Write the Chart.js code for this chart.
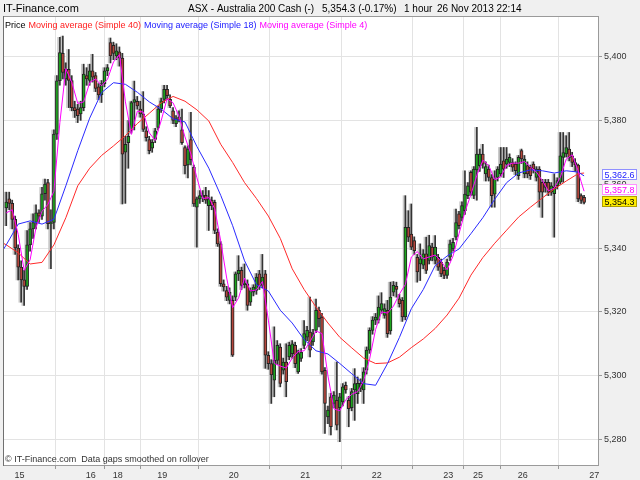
<!DOCTYPE html>
<html><head><meta charset="utf-8">
<script src="https://cdn.jsdelivr.net/npm/chart.js@4/dist/chart.umd.min.js"></script>
<style>html,body{margin:0;padding:0;background:#f0f0f0;}canvas{display:block;}</style>
</head><body>
<canvas id="c" width="640" height="480"></canvas>
<script>
// ---- tick labels ----
const dayLabels = ['15','16','18','19','20','21','22','23','25','26','27'];
const dayStarts = [4.4,28.4,37.4,52.4,76.4,100.4,124.4,148.4,158.4,173.4,197.4];
const yTicks = [5280,5300,5320,5340,5360,5380,5400];

// ---- hourly candles (index 0..194) ----
const open = [5352.6,5355.4,5354,5349,5340,5334,5330,5328,5341,5346,5348,5351,5350,5357,5360.5,5347.6,5348,5375.7,5392.4,5401,
5393,5396,5392.5,5384,5383.5,5382,5384,5394,5392.5,5395.5,5394,5390.5,5388,5391.5,5395.5,5404.4,5403.5,5400.2,5401.5,5399.5,
5370,5373,5377,5385.6,5386,5383.5,5382,5376.7,5374,5371.3,5374,5377.8,5383.5,5386.6,5389.7,5386.6,5383,5379,5381,5377,
5371.5,5366,5374,5365.3,5352.8,5355.4,5356,5356.5,5353.3,5355,5354.3,5345,5341.3,5328.8,5326.7,5323.6,5323.6,5324.6,5331.9,5333,
5328.5,5328.8,5323,5326.2,5326.7,5331.9,5328.3,5331.9,5306.4,5303.8,5298.6,5304.8,5309,5301.7,5304.3,5305.9,5306.9,5309.5,5301.2,5305.4,
5309.5,5312.1,5313.7,5310.6,5314.2,5320.5,5318.4,5301.7,5287.1,5293.4,5291.3,5292.3,5290,5291.8,5297,5292.3,5290,5295.5,5294.4,5296,
5295.5,5301.7,5308,5314.2,5317.4,5317.4,5320.5,5318.9,5320.5,5314,5326.2,5328,5324.1,5323.6,5318.4,5346.5,5344.4,5342.3,5337.1,5335,
5334.6,5338.2,5336.1,5340.3,5336.1,5337.1,5335.6,5333,5331.4,5337.1,5339.7,5343.4,5350.7,5349.6,5351.7,5356.4,5363.7,5356.5,5364.5,5365.8,
5369.4,5363.2,5364.7,5362.1,5356.9,5362.1,5363.2,5367.3,5366.3,5366.8,5366.8,5366.3,5362.7,5370.5,5363.2,5365.8,5365.3,5366.3,5362.1,5364.7,
5360.6,5360.6,5360.6,5357.5,5357,5359.5,5360.6,5368.4,5369.5,5371,5368.9,5366.8,5366,5356.4,5355.9];
const high = [5357.5,5357.5,5355,5350,5341,5336,5333,5345.5,5348,5350.7,5353.5,5352,5359,5361.6,5361.5,5352,5377,5394,5406,5406.4,
5398,5402.2,5394,5386,5385,5386,5397.6,5396.5,5397.6,5400.7,5395,5391.5,5392.5,5396.5,5397.5,5405.8,5404.5,5404,5403,5401,
5375,5380,5386,5392.3,5387.5,5386,5389,5378,5375,5374,5377.5,5384.5,5387,5391,5391,5388,5384,5381.5,5383,5383.5,
5372,5372,5382.5,5366,5356,5358,5358,5359,5358,5356,5355,5346,5342,5330,5328,5327.5,5325,5332.5,5337.6,5334,
5335,5330,5327.5,5328.5,5332,5333,5338,5333,5307.5,5305,5315.3,5311,5310,5305.5,5310,5310.5,5311,5310.5,5308,5308.5,
5317.3,5315.5,5324.6,5314.5,5324,5321.5,5319.5,5302.5,5290.5,5294.5,5295,5304.3,5294.5,5297.5,5298,5293.5,5296,5302.2,5299.6,5299,
5302.5,5309,5315,5318.5,5319.5,5325,5326,5322.5,5323.6,5329.3,5329.5,5329.3,5325.5,5324.5,5356.4,5351.7,5353.8,5343.5,5338,5341.3,
5339.5,5343.4,5344,5341.5,5343.9,5338,5336.5,5334,5336.5,5342.5,5343,5352.2,5351.5,5354.5,5364.2,5360.5,5364.2,5365.5,5377.8,5371,
5372.5,5367,5366,5363,5364.2,5365.5,5371.5,5371.5,5371.5,5369.5,5368,5367,5369,5371,5369,5367,5366,5367,5365.5,5365.5,
5361.5,5361.5,5361.5,5360.5,5363.2,5362,5376.2,5376.2,5375.2,5376.2,5370,5368,5366.3,5357,5356.5];
const low = [5347,5352,5346,5338,5330,5323,5322,5327,5339,5343,5346,5348,5349,5355,5346,5333.5,5346,5374,5391,5393,
5391,5384,5383,5380.9,5379.3,5380,5383,5391,5391,5392,5389,5386.5,5385.6,5390.5,5394,5398,5399,5399,5397,5353.8,
5354,5365,5376,5377,5383.5,5381,5376.5,5373.5,5369.5,5370,5373,5377,5382.5,5385.5,5386.5,5384,5379,5378,5379.5,5372.5,
5363.2,5362,5366,5353,5340.3,5354,5354.5,5354,5345.5,5352,5344.5,5340.5,5328,5326.5,5323.5,5322.5,5306,5323.5,5329.8,5327,
5327.5,5320.5,5322,5325,5325.5,5327,5327.5,5302.3,5302,5291.3,5293.4,5303.5,5296.5,5300.5,5293.4,5305,5305.5,5302.5,5300.7,5304.5,
5308.5,5311,5305.9,5309.5,5313.5,5315.3,5300.5,5281.9,5285,5281.4,5290,5283,5279.3,5290.5,5294.5,5284,5289,5286,5291.3,5295,
5291.3,5300.5,5307,5313,5316,5316.5,5319.5,5318,5312,5313,5325,5324.6,5321.5,5317,5317.5,5342,5339.5,5338,5329.3,5329.8,
5333.5,5332,5335,5336,5335,5333,5331,5330.4,5330.5,5336,5339,5342.5,5346,5348.5,5350.5,5355.5,5356.5,5355.5,5355,5364,
5365,5361,5361,5352.8,5352.8,5361,5362.5,5362.1,5365,5365.5,5364,5363,5361.5,5366.5,5362,5362,5361.5,5363.5,5361,5352.8,
5349.6,5357.5,5356.4,5356.5,5343.4,5358.5,5360,5360.6,5368.5,5367.3,5365.5,5364,5354.5,5354,5353.8];
const close = [5354.4,5354,5349,5340,5334,5330,5328,5341,5346,5348,5351,5350,5357,5360,5347.6,5348,5375.7,5392.4,5401.2,5395,
5396,5392.5,5384,5383,5381.5,5384,5394.5,5393,5395.5,5393.5,5390,5388,5391.5,5395.5,5396.5,5400.2,5401,5401.8,5399.5,5369.4,
5372.5,5375,5385.6,5386.5,5384.5,5382,5377.2,5374.6,5370.5,5373.1,5376.7,5383.5,5386.1,5389.7,5387.7,5384.5,5380,5380.5,5380,5373,
5365.8,5371,5367.7,5353.8,5355.4,5356.4,5356.5,5355,5355.4,5353.3,5345.5,5341.3,5328.8,5327.8,5324.6,5326.2,5306.4,5331.9,5333,5328.3,
5329,5322,5326.7,5327.8,5330.9,5328.3,5330.9,5306.4,5303.8,5300.2,5304.8,5309.5,5297.6,5304.3,5298.1,5309.5,5310,5303.8,5306.9,5307.4,
5313.2,5314.2,5308,5313.2,5320.5,5317.9,5301.2,5291.3,5289.2,5284,5293.9,5284.5,5293.4,5296.5,5295.5,5289.7,5295,5297.5,5297.6,5297.6,
5301.2,5308,5314.2,5317.4,5318.4,5321.5,5322.6,5321,5313.2,5324.6,5328.3,5327,5322.6,5318.4,5346.5,5343.4,5340.3,5339.2,5332.5,5336.6,
5338.2,5333,5340.8,5337.1,5340.3,5334,5331.9,5331.4,5335.6,5341.3,5341.8,5348,5347,5353.3,5356.9,5359.5,5357.5,5364.7,5369.4,5369.4,
5366.3,5365.5,5362.1,5356.4,5361.6,5364.7,5366.3,5364.7,5367.9,5368.4,5365.3,5364.2,5368.4,5367.9,5367.9,5363.2,5362.7,5364.7,5364.7,5357.5,
5357.5,5359,5357.5,5359.5,5359,5361.1,5368.9,5369.9,5371.5,5368.4,5366.8,5366,5355.4,5354.9,5354.3];

const maIdx = [-1,0,4,8,12,16,20,24,28,32,36,40,44,48,52,56,60,64,68,72,76,80,84,88,92,96,100,104,108,112,116,120,124,128,132,136,140,144,148,152,156,160,164,168,172,176,180,184,188,192,194];
const sma40 = [5341.5,5341,5338.5,5335,5335.5,5341,5349.5,5359.5,5365,5369,5372,5375.2,5379,5382.2,5385.5,5387.5,5386,5383.3,5379.8,5372.5,5366.8,5360.5,5355.5,5350,5343,5333.5,5327,5321.5,5316.5,5312,5308.7,5305.5,5303.8,5304,5305.8,5308.8,5311.5,5314.8,5319,5324.3,5331.5,5337,5341.5,5345.6,5349.7,5352.8,5355.7,5358.5,5361,5363.3,5363.5];
const sma18 = [5339.5,5341,5347.5,5348.5,5347.5,5349,5359.5,5370.5,5380.7,5388.7,5391.8,5391.3,5388.8,5385.8,5383.5,5380.5,5379.5,5371.8,5365,5356.5,5347,5336,5328.5,5326.5,5320.5,5316.5,5311.3,5307.8,5306.8,5303.8,5300.6,5297.5,5297,5303.8,5312,5321,5327,5334.5,5337.5,5339.7,5344.5,5349.5,5355.3,5360.5,5363.5,5364.5,5364.2,5363.5,5364.2,5363.8,5362.6];
const sma4Idx = [0,2,4,6,8,10,12,14,16,18,20,22,24,26,28,30,32,34,36,38,40,42,44,46,48,50,52,54,56,58,60,62,64,66,68,70,72,74,76,78,80,82,84,86,88,90,92,94,96,98,100,102,104,106,108,110,112,114,116,118,120,122,124,126,128,130,132,134,136,138,140,142,144,146,148,150,152,154,156,158,160,162,164,166,168,170,172,174,176,178,180,182,184,186,188,190,192,193,194];
const sma4 = [5351,5352,5344.3,5333,5336.3,5346.5,5351.5,5353.7,5357.8,5379.3,5396.2,5391.9,5385.3,5385.8,5391.8,5393,5390.8,5392.9,5398.3,5400.6,5385.8,5375.6,5382.9,5382.6,5376.1,5373.7,5379.9,5386.8,5385.5,5381.3,5374.8,5369.4,5362,5355.5,5355.8,5352.3,5342.2,5330.6,5321.3,5324.4,5330.6,5326.5,5326.9,5329.5,5317.4,5303.8,5303,5302.4,5305.5,5307.6,5307.8,5310.7,5314,5313.2,5299.9,5289.6,5289,5292.5,5294.2,5295,5298.5,5305.3,5314.5,5320,5319.6,5321.8,5325.6,5328.6,5337.2,5338.9,5336.6,5337.2,5337.8,5335.8,5333.2,5337.5,5344.5,5351.3,5356.8,5362.8,5367.5,5365.8,5361.4,5362.3,5365.9,5366.6,5366.6,5367.1,5365.4,5363.8,5361.1,5357.9,5358.8,5362.1,5367.9,5369.2,5364.2,5360.8,5357.8];

const lastPrice = 5354.3, lastSma18 = 5362.6, lastSma4 = 5357.8;

// ---- build datasets ----
const bodies = close.map((c,i)=>({x:i, y:[open[i], c]}));
const wicks = close.map((c,i)=>({x:i, y:[low[i], high[i]]}));
const shadows = close.map((c,i)=>({x:i-0.45, y:[low[i], high[i]]}));
const bodyColors = close.map((c,i)=> c>=open[i] ? '#1ea51e' : '#b4463c');
const line = (idx, vals) => idx.map((k,i)=>({x:k, y:vals[i]}));

const FONT = 'Liberation Sans, Arial, sans-serif';
const fmt = v => { const s = v.toFixed(0); return s.slice(0,1)+','+s.slice(1); };
const fmt1 = v => { const s = v.toFixed(1); return s.slice(0,1)+','+s.slice(1); };

const deco = {
  id:'deco',
  beforeDraw(ch){
    const c = ch.ctx, a = ch.chartArea;
    c.save();
    c.fillStyle = '#f0f0f0'; c.fillRect(0,0,ch.width,ch.height);
    c.fillStyle = '#ffffff'; c.fillRect(a.left,a.top,a.right-a.left,a.bottom-a.top);
    c.restore();
  },
  afterDraw(ch){
    const c = ch.ctx, a = ch.chartArea, y = ch.scales.y;
    c.save();
    // plot border
    c.strokeStyle = '#9a9a9a'; c.lineWidth = 1;
    c.strokeRect(a.left+0.5, a.top+0.5, a.right-a.left-1, a.bottom-a.top-1);
    c.strokeStyle = '#707070';
    c.beginPath(); c.moveTo(a.left+0.5,a.top); c.lineTo(a.left+0.5,a.bottom); c.stroke();
    // header
    c.textBaseline = 'alphabetic';
    c.fillStyle = '#000';
    c.font = '11px '+FONT;
    c.fillText('IT-Finance.com', 3, 12);
    c.font = '10px '+FONT;
    c.fillText('ASX - Australia 200 Cash (-)', 188, 12);
    c.fillText('5,354.3 (-0.17%)', 322, 12);
    c.fillText('1 hour', 404, 12);
    c.fillText('26 Nov 2013 22:14', 437, 12);
    // legend
    c.font = '9px '+FONT;
    let x = a.left + 2; const ly = a.top + 12;
    const items = [['Price','#000000'],['Moving average (Simple 40)','#ff2020'],['Moving average (Simple 18)','#2020ff'],['Moving average (Simple 4)','#ff00ff']];
    items.forEach(([t,col])=>{ c.fillStyle = col; c.fillText(t, x, ly); x += c.measureText(t).width + 3; });
    // footer
    c.fillStyle = '#333';
    c.fillText('\u00A9 IT-Finance.com  Data gaps smoothed on rollover', a.left + 2, a.bottom - 4);
    // price tags
    const tag = (v, txt, fg, bg, bd, dy) => {
      const py = Math.round(y.getPixelForValue(v)) + dy;
      const bx = a.right + 3, bw = 35, bh = 11;
      c.fillStyle = bg; c.fillRect(bx, py-6, bw, bh);
      c.strokeStyle = bd; c.lineWidth = 1; c.strokeRect(bx+0.5, py-5.5, bw-1, bh-1);
      c.fillStyle = fg; c.font = '9px '+FONT; c.textAlign = 'center';
      c.fillText(txt, bx + bw/2, py+3);
      c.textAlign = 'left';
    };
    tag(lastSma18, fmt1(lastSma18), '#2020ff', '#ffffff', '#9090ff', -1);
    tag(lastSma4, fmt1(lastSma4), '#ff00ff', '#ffffff', '#ff90ff', -1);
    tag(lastPrice, fmt1(lastPrice), '#000000', '#ffee00', '#b0a000', 0);
    c.restore();
  }
};

new Chart(document.getElementById('c'), {
  type:'bar',
  data:{ datasets:[
    {type:'line', data:line(sma4Idx, sma4), borderColor:'#ff00ff', borderWidth:1, pointRadius:0, order:0},
    {type:'line', data:line(maIdx, sma18), borderColor:'#2a2aff', borderWidth:1, pointRadius:0, order:1},
    {type:'line', data:line(maIdx, sma40), borderColor:'#ff2a2a', borderWidth:1, pointRadius:0, order:2},
    {data:bodies, backgroundColor:bodyColors, borderColor:'#222', borderWidth:1, borderSkipped:false, barThickness:3, grouped:false, order:3},
    {data:wicks, backgroundColor:'#333', barThickness:1, grouped:false, order:4},
    {data:shadows, backgroundColor:'#c8c8c8', barThickness:2, grouped:false, order:5}
  ]},
  options:{
    responsive:false, animation:false, devicePixelRatio:1,
    layout:{padding:{left:3, top:16, right:0, bottom:0}},
    plugins:{legend:{display:false}, tooltip:{enabled:false}},
    scales:{
      x:{type:'linear', min:-1.1, max:199, offset:false,
        afterBuildTicks:s=>{ s.ticks = dayStarts.map(v=>({value:v})); },
        afterFit:s=>{ s.height = 14; },
        ticks:{autoSkip:false, maxRotation:0, padding:1, color:'#333', font:{family:FONT, size:9},
          callback:(v,i)=>dayLabels[i]},
        grid:{color:'#e3e3e3', lineWidth:1, tickLength:3, tickColor:'#999'},
        border:{display:false}
      },
      y:{position:'right', min:5271.7, max:5412.7,
        afterBuildTicks:s=>{ s.ticks = yTicks.map(v=>({value:v})); },
        afterFit:s=>{ s.width = 41; },
        ticks:{padding:2, color:'#333', font:{family:FONT, size:9}, callback:v=>fmt(v)},
        grid:{color:'#e3e3e3', lineWidth:1, tickLength:3, tickColor:'#999'},
        border:{display:false}
      }
    }
  },
  plugins:[deco]
});
</script>
</body></html>
